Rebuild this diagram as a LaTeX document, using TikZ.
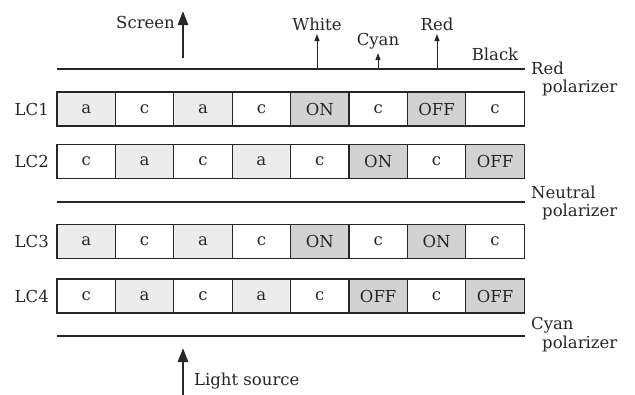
\documentclass[tikz,border=0pt]{standalone}
\usepackage{fontspec}
\setmainfont{DejaVu Serif}
\usetikzlibrary{arrows.meta}
\definecolor{lightc}{HTML}{ECECEC}
\definecolor{darkc}{HTML}{D2D2D2}
\begin{document}
\begin{tikzpicture}[x=1pt,y=-1pt,
  every node/.style={font=\fontsize{16.5}{19}\selectfont, inner sep=0pt, text=black!85},
  cell/.style={draw=black!85, line width=1.1pt, minimum width=58.4pt, minimum height=34pt, anchor=center},
  ca/.style={cell, fill=lightc},
  cw/.style={cell, fill=white},
  cd/.style={cell, fill=darkc},
  pol/.style={line width=2.6pt, draw=black!85},
  bigarrow/.style={line width=2.6pt, -{Triangle[width=10pt,length=14pt]}},
  smallarrow/.style={line width=0.9pt, -{Triangle[width=5pt,length=7pt]}},
  lab/.style={anchor=east}]
\useasboundingbox (0,0) rectangle (635,394);
% polarizer lines
\coordinate (p1a) at (57,69); \coordinate (p1b) at (525,69);
\coordinate (p2a) at (57,202); \coordinate (p2b) at (525,202);
\coordinate (p3a) at (57,336); \coordinate (p3b) at (525,336);
\draw[pol] (p1a) -- (p1b);
\draw[pol] (p2a) -- (p2b);
\draw[pol] (p3a) -- (p3b);
% rows
\foreach \r/\y/\lst in {1/109/{ca/a,cw/c,ca/a,cw/c,cd/ON,cw/c,cd/OFF,cw/c},
                        2/161.5/{cw/c,ca/a,cw/c,ca/a,cw/c,cd/ON,cw/c,cd/OFF},
                        3/241.5/{ca/a,cw/c,ca/a,cw/c,cd/ON,cw/c,cd/ON,cw/c},
                        4/296/{cw/c,ca/a,cw/c,ca/a,cw/c,cd/OFF,cw/c,cd/OFF}}{
  \foreach [count=\i from 0] \st/\tx in \lst {
    \node[\st] (c\r-\i) at ({57+29.2+58.4*\i},\y) {\tx};
  }
  \node[lab] (lc\r) at (49,\y) {LC\r};
}
% Screen arrow
\coordinate (scrb) at (183,58);
\coordinate (scrt) at (183,11);
\draw[bigarrow, draw=black!85] (scrb) -- (scrt);
\node[anchor=east] (screen) at (175,22) {Screen};
% light source arrow
\coordinate (lsb) at (183,396);
\coordinate (lst) at (183,348);
\draw[bigarrow, draw=black!85] (lsb) -- (lst);
\node[anchor=west] (light) at (194,381) {Light source};
% colour outputs
\coordinate (wb) at (317,69); \coordinate (wt) at (317,34);
\coordinate (cb) at (378,69); \coordinate (ct) at (378,53);
\coordinate (rb) at (437,69); \coordinate (rt) at (437,34);
\draw[smallarrow, draw=black!85] (wb) -- (wt);
\draw[smallarrow, draw=black!85] (cb) -- (ct);
\draw[smallarrow, draw=black!85] (rb) -- (rt);
\node (white) at (317,24) {White};
\node (cyan) at (378,41) {Cyan};
\node (red) at (437,24) {Red};
\node (black) at (495,54) {Black};
% polarizer labels
\node[anchor=west] (rp1) at (531,68) {Red};
\node[anchor=west] (rp2) at (542,88) {polarizer};
\node[anchor=west] (np1) at (531,192) {Neutral};
\node[anchor=west] (np2) at (542,212) {polarizer};
\node[anchor=west] (cp1) at (531,325) {Cyan};
\node[anchor=west] (cp2) at (542,344) {polarizer};
\end{tikzpicture}
\end{document}
